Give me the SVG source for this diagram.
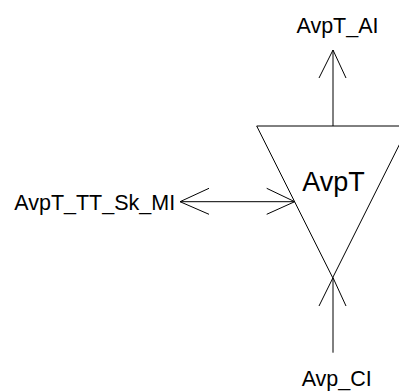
<svg xmlns="http://www.w3.org/2000/svg" width="399" height="392" viewBox="0 0 399 392">
<style>
.ln{stroke:#000;stroke-width:1;fill:none}
.lbl{font-family:"Liberation Sans",Arial,sans-serif;font-size:21.5px;fill:#000}
.big{font-family:"Liberation Sans",Arial,sans-serif;font-size:27px;fill:#000}
</style>
<rect width="399" height="392" fill="#fff"/>
<g id="AvpT">
<polygon class="ln" points="256.7,126 408.7,126 332.7,277.7"/>
<text class="big" x="333.5" y="191" text-anchor="middle">AvpT</text>
</g>
<g id="AvpT_AI"><text class="lbl" x="337.5" y="32.7" text-anchor="middle">AvpT_AI</text></g>
<g id="AvpT_TT_Sk_MI"><text class="lbl" x="94.7" y="209.5" text-anchor="middle">AvpT_TT_Sk_MI</text></g>
<g id="Avp_CI"><text class="lbl" x="336.7" y="386" text-anchor="middle">Avp_CI</text></g>
<g id="connectors">
<path class="ln" d="M333,126 V50 M319,78 L333,50 L346,78"/>
<path class="ln" d="M180,201.7 H294.7 M209,188.3 L180,201.7 L209,214.3 M266.7,188.3 L294.7,201.7 L266.7,214.3"/>
<path class="ln" d="M333,352.7 V277.7 M319,306 L333,277.7 L346,306"/>
</g>
</svg>
